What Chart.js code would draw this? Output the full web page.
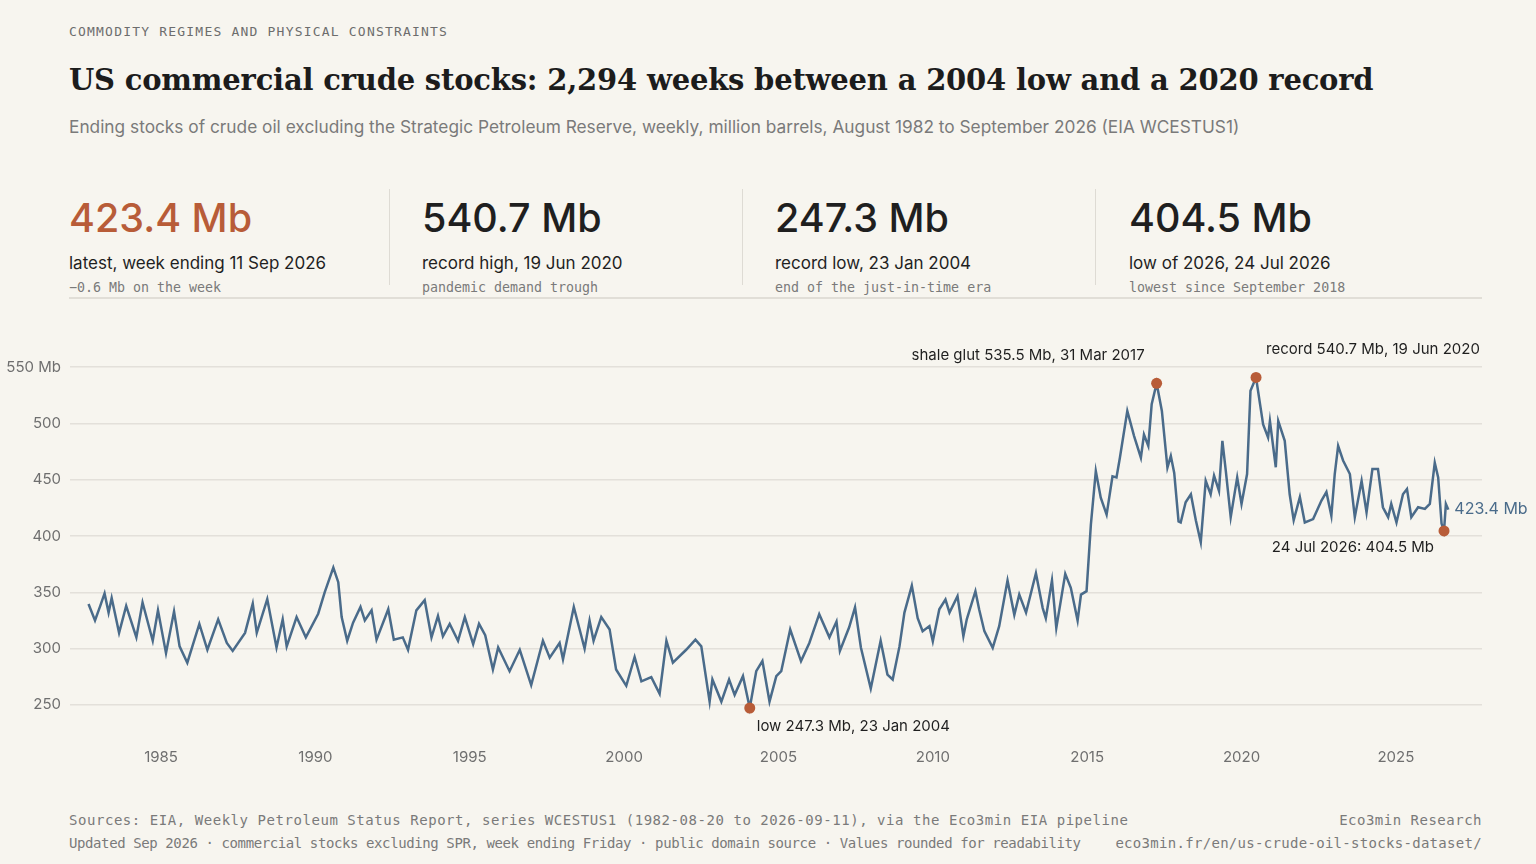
<!DOCTYPE html>
<html>
<head>
<meta charset="utf-8">
<script src="https://cdn.jsdelivr.net/npm/chart.js@4"></script>
<style>
  body { margin:0; background:#f7f5ef; width:1536px; height:864px; overflow:hidden; position:relative; font-family:Inter, "Noto Sans", sans-serif; color:#1f1f1f; }
  .abs { position:absolute; white-space:nowrap; }
  .mono { font-family:"DejaVu Sans Mono", "Liberation Mono", monospace; }
  .kicker { left:69px; top:24px; font-size:13px; color:#6d6d6d; letter-spacing:1.2px; }
  .title { left:69px; top:63px; font-family:"DejaVu Serif", "Liberation Serif", serif; font-weight:bold; font-size:29px; color:#1c1c1c; letter-spacing:-0.2px; }
  .sub { left:69px; top:116px; font-size:17.3px; color:#7a7a7a; }
  .kpi { top:190px; width:330px; }
  .kpi .big { font-size:39.5px; font-weight:500; line-height:1; margin-top:9px; }
  .kpi .lab { font-size:17px; margin-top:14px; }
  .kpi .note { font-size:13.3px; color:#7a7a7a; margin-top:7px; }
  .vline { top:189px; width:1px; height:96px; background:#dedbd4; }
  .hline { left:69px; top:297px; width:1413px; height:2px; background:#e1ded7; }
  .foot { font-size:14px; color:#7a7a7a; }
  #wrap { position:absolute; left:0; top:340px; width:1536px; height:440px; }
</style>
</head>
<body>
<div class="abs mono kicker">COMMODITY REGIMES AND PHYSICAL CONSTRAINTS</div>
<div class="abs title">US commercial crude stocks: 2,294 weeks between a 2004 low and a 2020 record</div>
<div class="abs sub">Ending stocks of crude oil excluding the Strategic Petroleum Reserve, weekly, million barrels, August 1982 to September 2026 (EIA WCESTUS1)</div>

<div class="abs kpi" style="left:69px"><div class="big" style="color:#b85c38">423.4 Mb</div><div class="lab">latest, week ending 11 Sep 2026</div><div class="note mono">−0.6 Mb on the week</div></div>
<div class="abs vline" style="left:389px"></div>
<div class="abs kpi" style="left:422px"><div class="big">540.7 Mb</div><div class="lab">record high, 19 Jun 2020</div><div class="note mono">pandemic demand trough</div></div>
<div class="abs vline" style="left:742px"></div>
<div class="abs kpi" style="left:775px"><div class="big">247.3 Mb</div><div class="lab">record low, 23 Jan 2004</div><div class="note mono">end of the just-in-time era</div></div>
<div class="abs vline" style="left:1095px"></div>
<div class="abs kpi" style="left:1129px"><div class="big">404.5 Mb</div><div class="lab">low of 2026, 24 Jul 2026</div><div class="note mono">lowest since September 2018</div></div>
<div class="abs hline"></div>

<div id="wrap"><canvas id="c" width="1536" height="440"></canvas></div>

<div class="abs mono foot" style="left:69px; top:812px; letter-spacing:0.55px">Sources: EIA, Weekly Petroleum Status Report, series WCESTUS1 (1982-08-20 to 2026-09-11), via the Eco3min EIA pipeline</div>
<div class="abs mono foot" style="left:69px; top:835px; letter-spacing:-0.4px">Updated Sep 2026 · commercial stocks excluding SPR, week ending Friday · public domain source · Values rounded for readability</div>
<div class="abs mono foot" style="right:54px; top:812px; letter-spacing:0.5px">Eco3min Research</div>
<div class="abs mono foot" style="right:54px; top:835px; letter-spacing:0.3px">eco3min.fr/en/us-crude-oil-stocks-dataset/</div>

<script>
// ── Data (decimal year, million barrels) ────────────────────────────────────
const years = [
  1982.65,1982.86,1983.03,1983.17,1983.3,1983.4,1983.64,1983.87,1984.2,1984.4,1984.73,1984.9,
  1985.16,1985.42,1985.6,1985.85,1986.24,1986.5,1986.85,1987.13,1987.32,1987.72,1987.97,1988.1,
  1988.44,1988.74,1988.94,1989.07,1989.39,1989.69,1990.09,1990.3,1990.58,1990.74,1990.85,1991.03,
  1991.22,1991.46,1991.6,1991.82,1991.98,1992.36,1992.54,1992.83,1993.0,1993.27,1993.54,1993.76,
  1993.97,1994.13,1994.35,1994.62,1994.84,1995.11,1995.3,1995.5,1995.75,1995.92,1996.29,1996.62,
  1996.99,1997.37,1997.59,1997.91,1998.02,1998.37,1998.54,1998.72,1998.88,1999.01,1999.26,1999.53,
  1999.74,2000.07,2000.34,2000.56,2000.88,2001.15,2001.37,2001.58,2002.01,2002.31,2002.5,2002.77,
  2002.86,2003.15,2003.4,2003.58,2003.85,2004.07,2004.28,2004.48,2004.71,2004.93,2005.09,2005.38,
  2005.73,2006.0,2006.32,2006.65,2006.88,2006.99,2007.29,2007.48,2007.67,2007.99,2008.31,2008.53,
  2008.7,2008.92,2009.08,2009.32,2009.51,2009.67,2009.89,2010.0,2010.21,2010.41,2010.54,2010.8,
  2010.99,2011.1,2011.38,2011.5,2011.67,2011.94,2012.15,2012.42,2012.64,2012.8,2013.02,2013.34,
  2013.56,2013.66,2013.86,2014.0,2014.29,2014.47,2014.69,2014.8,2014.98,2015.12,2015.28,2015.44,
  2015.63,2015.82,2015.95,2016.06,2016.3,2016.52,2016.74,2016.84,2016.98,2017.09,2017.25,2017.42,
  2017.6,2017.71,2017.82,2017.96,2018.03,2018.19,2018.36,2018.52,2018.68,2018.84,2019.0,2019.11,
  2019.27,2019.38,2019.49,2019.65,2019.86,2020.0,2020.18,2020.29,2020.47,2020.6,2020.7,2020.86,
  2020.92,2021.11,2021.19,2021.4,2021.56,2021.69,2021.89,2022.05,2022.32,2022.59,2022.75,2022.91,
  2023.02,2023.13,2023.29,2023.51,2023.67,2023.89,2024.05,2024.24,2024.42,2024.58,2024.75,2024.85,
  2025.02,2025.23,2025.36,2025.5,2025.72,2025.94,2026.1,2026.26,2026.37,2026.48,2026.56,2026.62,2026.7
];
const stocks = [
  339.6,325,338,349,332,345,314,338,310,341,307,334,
  296,333,302,287.5,322,299,326,305,298,314,340,314,
  344,301,326,302,328,310,331,350,372,359,328,307,
  323,337,325,334,308,335,308,310,299,334,343,310,
  329,311,322,307,328,304,322,312,281.5,301,280,299,
  267.6,307,292,305,290.5,337,319,300,325,307,328,317,
  281.5,267,292.6,271,274.7,260,307,287.5,299,308,302,253,
  272.6,253,272.6,259,275.6,247.3,280,289,253,275.6,280,317,
  289,305,330.6,310,324,298,319,336.6,301,264.6,307,277,
  272.6,302,332,356,327,315.5,320,306.6,335,343.6,332,346.6,
  311,326,351,335,315.5,300.7,320,360.5,330,348,332,367,
  336,327,360.5,318.4,366.4,354,325,348,351,410,457.6,434,
  419,453,452,469.5,511,488.7,469.5,490,480,517,535.5,511,
  460.6,471,456,413,412,430,437,414,394.5,449,437,453.5,
  440,484.5,458,416.7,452,428.5,455,529,540.7,517,499,487.5,
  502,461,502,484.5,437,414,434.5,412,415,431.5,439,418,
  455,480,467,455,416.7,449,421,459.4,459.4,425.5,416.7,428.5,
  412,437,441.7,416.7,425.5,424,428.5,465,452,411,404.5,428.5,423.4
];
const xTicks = [1985, 1990, 1995, 2000, 2005, 2010, 2015, 2020, 2025];
const yTicks = [250, 300, 350, 400, 450, 500, 550];

const callouts = [
  { x: 2017.25, y: 535.5, text: 'shale glut 535.5 Mb, 31 Mar 2017', dx: -12, dy: -28, align: 'right' },
  { x: 2020.47, y: 540.7, text: 'record 540.7 Mb, 19 Jun 2020', dx: 10, dy: -28, align: 'left' },
  { x: 2004.07, y: 247.3, text: 'low 247.3 Mb, 23 Jan 2004', dx: 7, dy: 18, align: 'left' },
  { x: 2026.56, y: 404.5, text: '24 Jul 2026: 404.5 Mb', dx: -10, dy: 17, align: 'right' }
];

const RED = '#b85c38';
const BLUE = '#4a6b8a';

const calloutPlugin = {
  id: 'callouts',
  afterDatasetsDraw(chart) {
    const { ctx, scales: { x, y } } = chart;
    ctx.save();
    ctx.font = '15px Inter, "Noto Sans", sans-serif';
    ctx.textBaseline = 'middle';
    callouts.forEach(c => {
      const px = x.getPixelForValue(c.x), py = y.getPixelForValue(c.y);
      ctx.fillStyle = RED;
      ctx.beginPath(); ctx.arc(px, py, 5.5, 0, Math.PI * 2); ctx.fill();
      ctx.fillStyle = '#1f1f1f';
      ctx.textAlign = c.align;
      ctx.fillText(c.text, px + c.dx, py + c.dy);
    });
    // latest value label
    const lx = x.getPixelForValue(years[years.length - 1]);
    const ly = y.getPixelForValue(stocks[stocks.length - 1]);
    ctx.fillStyle = BLUE;
    ctx.font = '16px Inter, "Noto Sans", sans-serif';
    ctx.textAlign = 'left';
    ctx.fillText('423.4 Mb', lx + 6, ly);
    ctx.restore();
  }
};

new Chart(document.getElementById('c').getContext('2d'), {
  type: 'line',
  data: {
    datasets: [{
      data: years.map((yr, i) => ({ x: yr, y: stocks[i] })),
      borderColor: BLUE,
      borderWidth: 2.5,
      pointRadius: 0,
      tension: 0,
      fill: false
    }]
  },
  options: {
    responsive: false,
    animation: false,
    layout: { padding: { top: 27, right: 54, left: 0, bottom: 0 } },
    plugins: { legend: { display: false }, tooltip: { enabled: false } },
    scales: {
      x: {
        type: 'linear', min: 1982.05, max: 2027.79,
        grid: { display: false }, border: { display: false },
        afterBuildTicks: s => { s.ticks = xTicks.map(v => ({ value: v })); },
        afterFit: s => { s.height = 52.5; },
        ticks: { color: '#6f6f6f', padding: 13, font: { size: 15, family: 'Inter' }, callback: v => String(v) }
      },
      y: {
        min: 230, max: 550,
        grid: { color: '#e3e0da', lineWidth: 1.5, drawTicks: false }, border: { display: false },
        afterBuildTicks: s => { s.ticks = yTicks.map(v => ({ value: v })); },
        afterFit: s => { s.width = 70; },
        ticks: { color: '#6f6f6f', padding: 9, font: { size: 15, family: 'Inter' },
                 callback: v => v === 550 ? '550 Mb' : String(v) }
      }
    }
  },
  plugins: [calloutPlugin]
});
</script>
</body>
</html>
